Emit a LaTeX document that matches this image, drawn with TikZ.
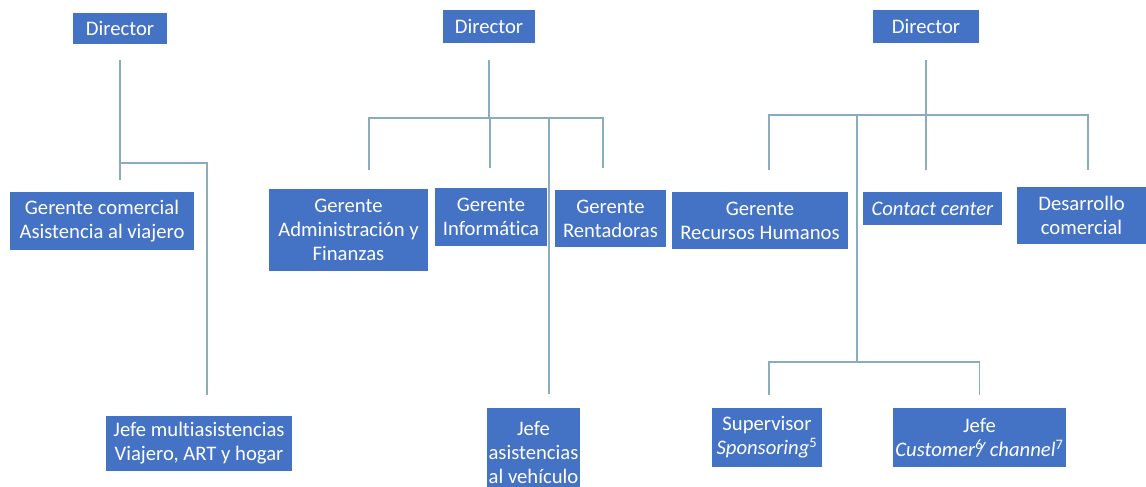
\documentclass[tikz,border=0pt]{standalone}
\usepackage{fontspec}
\setmainfont{Carlito}[Ligatures=NoCommon]
\usepackage{tikz}
\usetikzlibrary{calc}
\definecolor{boxblue}{RGB}{68,114,196}
\definecolor{linkgray}{RGB}{138,172,190}

\begin{document}
\begin{tikzpicture}[x=0.75pt, y=-0.75pt,
		puesto/.style={fill=boxblue, text=white, inner sep=0pt, align=center,
			font=\fontsize{15.5}{18}\selectfont},
		link/.style={draw=linkgray, line width=0.95pt}]
		% 1. lienzo
		\useasboundingbox (0,0) rectangle (1146,486);
		\clip (0,0) rectangle (1146,486);
		
		% 2. directores
		\node[puesto, minimum width=70.5pt, minimum height=23.25pt] (dirA) at (120,28.5) {Director};
		\node[puesto, minimum width=69pt, minimum height=24.75pt] (dirB) at (489,26.5) {Director};
		\node[puesto, minimum width=79.5pt, minimum height=24.75pt] (dirC) at (926,26.5) {Director};
		
		% 3. gerencias
		\node[puesto, minimum width=138pt, minimum height=43.5pt] (gcom) at (102,221) {Gerente comercial\\Asistencia al viajero};
		\node[puesto, minimum width=119.25pt, minimum height=61.5pt] (gadm) at (348.5,229.5) {Gerente\\Administración y\\Finanzas};
		\node[puesto, minimum width=84pt, minimum height=43.5pt] (ginf) at (491,217) {Gerente\\Informática};
		\node[puesto, minimum width=83.25pt, minimum height=42.75pt] (gren) at (610.5,218.5) {Gerente\\Rentadoras};
		\node[puesto, minimum width=132pt, minimum height=42.75pt] (grrhh) at (760,220.5) {Gerente\\Recursos Humanos};
		\node[puesto, minimum width=104.25pt, minimum height=24.75pt] (ccen) at (932.5,208.5) {\textit{Contact center}};
		\node[puesto, minimum width=96.75pt, minimum height=42.75pt] (dcom) at (1081.5,215.5) {Desarrollo\\comercial};
		
		% 4. jefaturas
		\node[puesto, minimum width=139.5pt, minimum height=41.25pt] (jmul) at (199,443.5) {Jefe multiasistencias\\Viajero, ART y hogar};
		\node[puesto, minimum width=69.75pt, minimum height=66pt] (jveh) at (533.5,452) {Jefe\\asistencias\\al vehículo};
		\node[puesto, minimum width=82.5pt, minimum height=44.25pt] (sup) at (767,437.5) {Supervisor\\\textit{Sponsoring}\textsuperscript{5}};
		\node[puesto, minimum width=129.75pt, minimum height=44.25pt] (jcus) at (979.5,437.5) {Jefe\\\textit{Customer}\textsuperscript{6}\kern-0.3em\textit{/ channel}\textsuperscript{7}};
		
		% 5. puntos de enlace
		\coordinate (busA) at (120,163);
		\coordinate (busB) at (490,118);
		\coordinate (busC) at (926,115);
		\coordinate (busD) at (857,362);
		\coordinate (vehtop) at ([xshift=11.6pt]jveh.north);
		\coordinate (admtop) at ([xshift=15.4pt]gadm.north);
		\coordinate (rentop) at ([xshift=-5.6pt]gren.north);
		\coordinate (multop) at ([xshift=6pt]jmul.north);
		\coordinate (rrhhtop) at ([xshift=6.75pt]grrhh.north);
		\coordinate (dcomtop) at ([xshift=4.9pt]dcom.north);
		\coordinate (suptop) at ([xshift=1.5pt]sup.north);
		
		% 6. organigrama izquierdo
		\draw[link, shorten <=12pt, shorten >=9pt] (dirA.south) -- (dirA.south |- gcom.north);
		\draw[link, shorten >=15.75pt] (busA) -| (multop);
		
		% 7. organigrama central
		\draw[link, shorten <=12.75pt] (dirB.south) -- (dirB.south |- busB);
		\draw[link, shorten <=13.5pt, shorten >=16.5pt] (admtop) |- (busB) -| (rentop);
		\draw[link, shorten >=15pt] (busB) -- (busB |- ginf.north);
		\draw[link, shorten >=10.5pt] (vehtop |- busB) -- (vehtop);
		
		% 8. organigrama derecho
		\draw[link, shorten <=12.75pt] (dirC.south) -- (busC);
		\draw[link, shorten <=16.5pt, shorten >=12.75pt] (rrhhtop) |- (busC) -| (dcomtop);
		\draw[link, shorten >=16.5pt] (busC) -- (busC |- ccen.north);
		\draw[link] (busD |- busC) -- (busD);
		\draw[link, shorten <=9.75pt, shorten >=9.75pt] (suptop) |- (busD) -| (jcus.north);
		
	\end{tikzpicture}
\end{document}
